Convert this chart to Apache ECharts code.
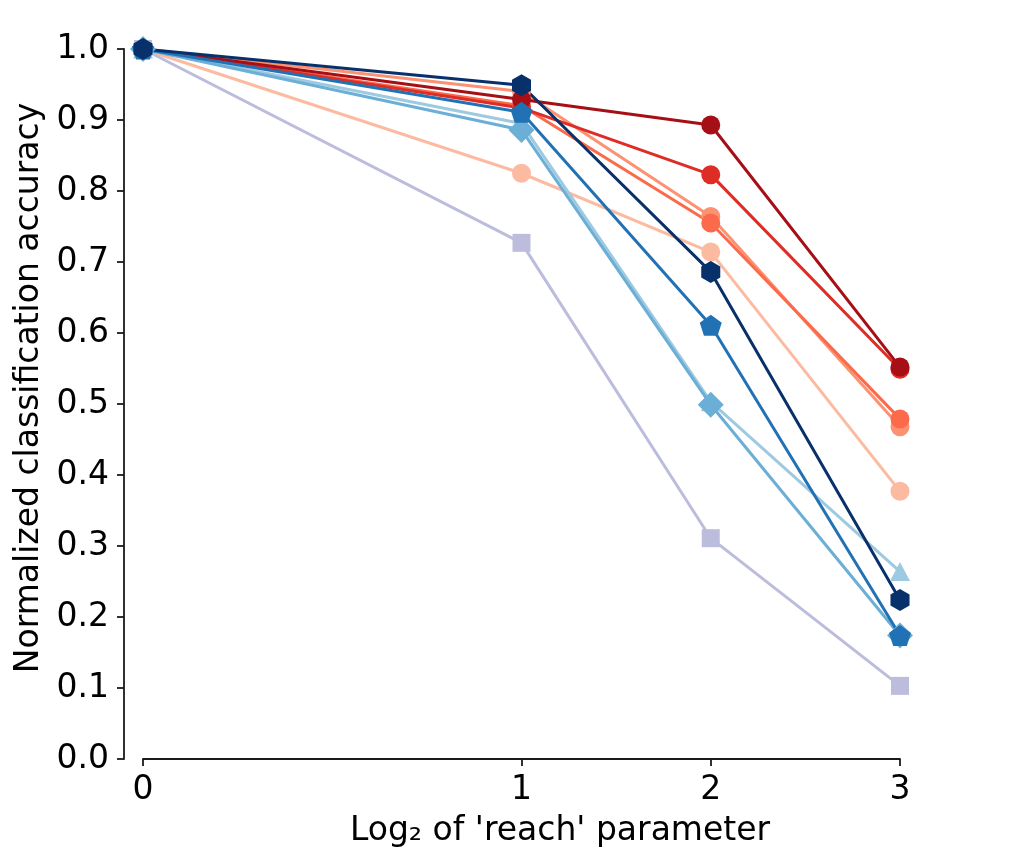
<!DOCTYPE html>
<html>
<head>
<meta charset="utf-8">
<script src="https://cdn.jsdelivr.net/npm/echarts@6/dist/echarts.min.js"></script>
<style>
html, body { margin: 0; padding: 0; background: #fff; }
#g_acc { width: 1011px; height: 864px; }
</style>
</head>
<body>
<div id="g_acc"></div>
<script>
// x positions on the axis (the ticks are not evenly spaced in the original)
var xPos = [0, 2, 3, 4];
var xTickLabels = ['0', '1', '2', '3'];
var yTicks = [0, 0.1, 0.2, 0.3, 0.4, 0.5, 0.6, 0.7, 0.8, 0.9, 1.0];

// reds, circles
var redLight = [1.0, 0.825, 0.714, 0.377];
var redSalmon = [1.0, 0.940, 0.764, 0.468];
var redOrange = [1.0, 0.920, 0.755, 0.479];
var redMid = [1.0, 0.917, 0.823, 0.549];
var redDark = [1.0, 0.929, 0.893, 0.552];

// blues
var lavSquare = [1.0, 0.727, 0.311, 0.103];
var lightTriangle = [1.0, 0.895, 0.503, 0.264];
var midDiamond = [1.0, 0.886, 0.499, 0.174];
var bluePentagon = [1.0, 0.911, 0.611, 0.174];
var navyHexagon = [1.0, 0.949, 0.686, 0.224];

var HEXAGON = 'path://M0,-1 L0.866,-0.5 L0.866,0.5 L0,1 L-0.866,0.5 L-0.866,-0.5 Z';
var PENTAGON = 'path://M0,-1 L0.951,-0.309 L0.588,0.809 L-0.588,0.809 L-0.951,-0.309 Z';

var TXT = '#000000';
var AX = '#1a1a1a';
var FONT = 'DejaVu Sans';

function pairs(vals) {
	var out = [];
	for (var i = 0; i < vals.length; i++) {
		out.push([xPos[i], vals[i]]);
	}
	return out;
}

function mkLine(vals, color, symbol, size) {
	return {
		type: 'line',
		data: pairs(vals),
		symbol: symbol,
		symbolSize: size,
		symbolKeepAspect: true,
		showSymbol: true,
		clip: false,
		lineStyle: { color: color, width: 3 },
		itemStyle: { color: color, borderWidth: 0 },
		emphasis: { disabled: true }
	};
}

(function() {
	var dom = document.getElementById('g_acc');
	var myChart = echarts.init(dom, null, { renderer: 'canvas' });

	var option = {
		animation: false,
		backgroundColor: '#ffffff',
		textStyle: { fontFamily: FONT },
		grid: { left: 143, right: 111, top: 49, bottom: 105, containLabel: false },
		xAxis: {
			type: 'value',
			min: 0,
			max: 4,
			name: 'Log\u2082 of \'reach\' parameter',
			nameLocation: 'middle',
			nameGap: 56,
			nameTextStyle: { color: TXT, fontSize: 33, fontFamily: FONT, padding: [0, 0, 0, 77] },
			axisLine: { onZero: false, lineStyle: { color: AX, width: 1.8 } },
			axisTick: { show: true, length: 7, customValues: xPos, lineStyle: { color: AX, width: 1.8 } },
			axisLabel: {
				customValues: xPos,
				color: TXT, fontSize: 33, fontFamily: FONT, margin: 15,
				formatter: function(v) {
					var i = xPos.indexOf(v);
					return i >= 0 ? xTickLabels[i] : '';
				}
			},
			splitLine: { show: false }
		},
		yAxis: {
			type: 'value',
			min: yTicks[0],
			max: yTicks[yTicks.length - 1],
			interval: 0.1,
			offset: 19,
			name: 'Normalized classification accuracy',
			nameLocation: 'middle',
			nameGap: 76,
			nameTextStyle: { color: TXT, fontSize: 33, fontFamily: FONT, padding: [0, 0, 0, 32] },
			axisLine: { show: true, onZero: false, lineStyle: { color: AX, width: 1.8 } },
			axisTick: { show: true, length: 7, lineStyle: { color: AX, width: 1.8 } },
			axisLabel: {
				color: TXT, fontSize: 33, fontFamily: FONT, margin: 15,
				formatter: function(v) { return v.toFixed(1); }
			},
			splitLine: { show: false }
		},
		series: [
			mkLine(redLight, '#fcbba1', 'circle', 19),
			mkLine(redSalmon, '#fc9272', 'circle', 19),
			mkLine(redOrange, '#fb6a4a', 'circle', 19),
			mkLine(redMid, '#de2d26', 'circle', 19),
			mkLine(redDark, '#a50f15', 'circle', 19),
			mkLine(lavSquare, '#bcbddc', 'rect', 18),
			mkLine(lightTriangle, '#9ecae1', 'triangle', [20, 19]),
			mkLine(midDiamond, '#6baed6', 'diamond', 26),
			mkLine(bluePentagon, '#2171b5', PENTAGON, 22),
			mkLine(navyHexagon, '#08306b', HEXAGON, 22)
		]
	};

	myChart.setOption(option, true);
})();
</script>
</body>
</html>
